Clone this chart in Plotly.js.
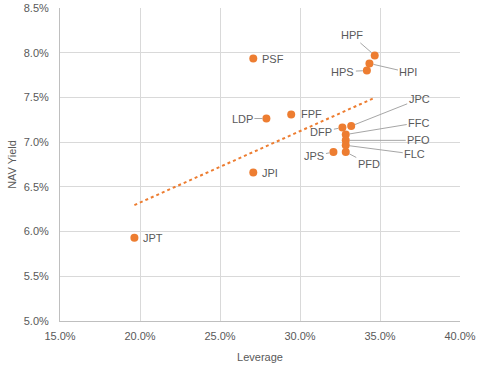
<!DOCTYPE html>
<html>
<head>
<meta charset="utf-8">
<script src="https://cdn.plot.ly/plotly-3.0.1.min.js"></script>
<style>html,body{margin:0;padding:0;background:#fff;}#chart{width:486px;height:376px;}</style>
</head>
<body>
<div id="chart"></div>
<script>
const funds = ["PSF","LDP","FPF","JPI","JPT","HPF","HPI","HPS","JPC","DFP","FFC","PFO","FLC","PFD","JPS"];
const leverage = [27.08,27.9,29.45,27.08,19.65,34.67,34.34,34.18,33.2,32.65,32.86,32.86,32.86,32.86,32.09];
const navYield = [7.935,7.264,7.31,6.66,5.93,7.97,7.88,7.80,7.18,7.163,7.085,7.02,6.965,6.89,6.89];
// label offsets (px) and whether a leader line is drawn
const labelDX = [20,-24,20,17,19,-23,39,-24,68,-21,73,73,69,23,-19];
const labelDY = [0,0,0,0,0,-20,9,1,-27,4,-12,0,9,12,4];
const leader = [false,true,false,false,false,true,true,true,true,true,true,true,true,true,true];

const X = leverage.map(v => v/100), Y = navYield.map(v => v/100);
// linear trendline (least squares)
const n = X.length;
const mx = X.reduce((a,b)=>a+b,0)/n, my = Y.reduce((a,b)=>a+b,0)/n;
let sxy=0, sxx=0;
for (let i=0;i<n;i++){ sxy+=(X[i]-mx)*(Y[i]-my); sxx+=(X[i]-mx)*(X[i]-mx); }
const slope = sxy/sxx, icpt = my - slope*mx;
const xmin = Math.min(...X), xmax = Math.max(...X);

const txtColor = "#595959";
const font = {family:"Liberation Sans, Arial, sans-serif", size:11, color:txtColor};

const traces = [
  {x:[xmin,xmax], y:[icpt+slope*xmin, icpt+slope*xmax], mode:"lines",
   line:{color:"#ED7D31", width:2, dash:"dot"}, hoverinfo:"skip"},
  {x:X, y:Y, mode:"markers", marker:{color:"#ED7D31", size:8}, text:funds}
];

const annotations = funds.map((f,i)=>({
  x:X[i], y:Y[i], text:f, showarrow:true, ax:labelDX[i], ay:labelDY[i],
  arrowhead:0, arrowwidth:1, arrowcolor: leader[i] ? "#a6a6a6" : "rgba(0,0,0,0)",
  standoff:4, startstandoff:0, font:font
}));

const layout = {
  width:486, height:376, showlegend:false,
  margin:{l:60, r:26, t:8, b:55},
  paper_bgcolor:"#fff", plot_bgcolor:"#fff",
  font:font,
  xaxis:{range:[0.15,0.40], dtick:0.05, tickformat:".1%", gridcolor:"#d9d9d9", gridwidth:1,
    showline:true, linecolor:"#bfbfbf", zeroline:false, ticks:"outside", ticklen:5,
    tickcolor:"rgba(0,0,0,0)", tickfont:font,
    title:{text:"Leverage", font:font, standoff:12}},
  yaxis:{range:[0.05,0.085], dtick:0.005, tickformat:".1%", gridcolor:"#d9d9d9", gridwidth:1,
    showline:true, linecolor:"#bfbfbf", zeroline:false, ticks:"outside", ticklen:8,
    tickcolor:"rgba(0,0,0,0)", tickfont:font,
    title:{text:"NAV Yield", font:font, standoff:4}},
  annotations:annotations
};

Plotly.newPlot("chart", traces, layout, {staticPlot:true, displayModeBar:false});
</script>
</body>
</html>
